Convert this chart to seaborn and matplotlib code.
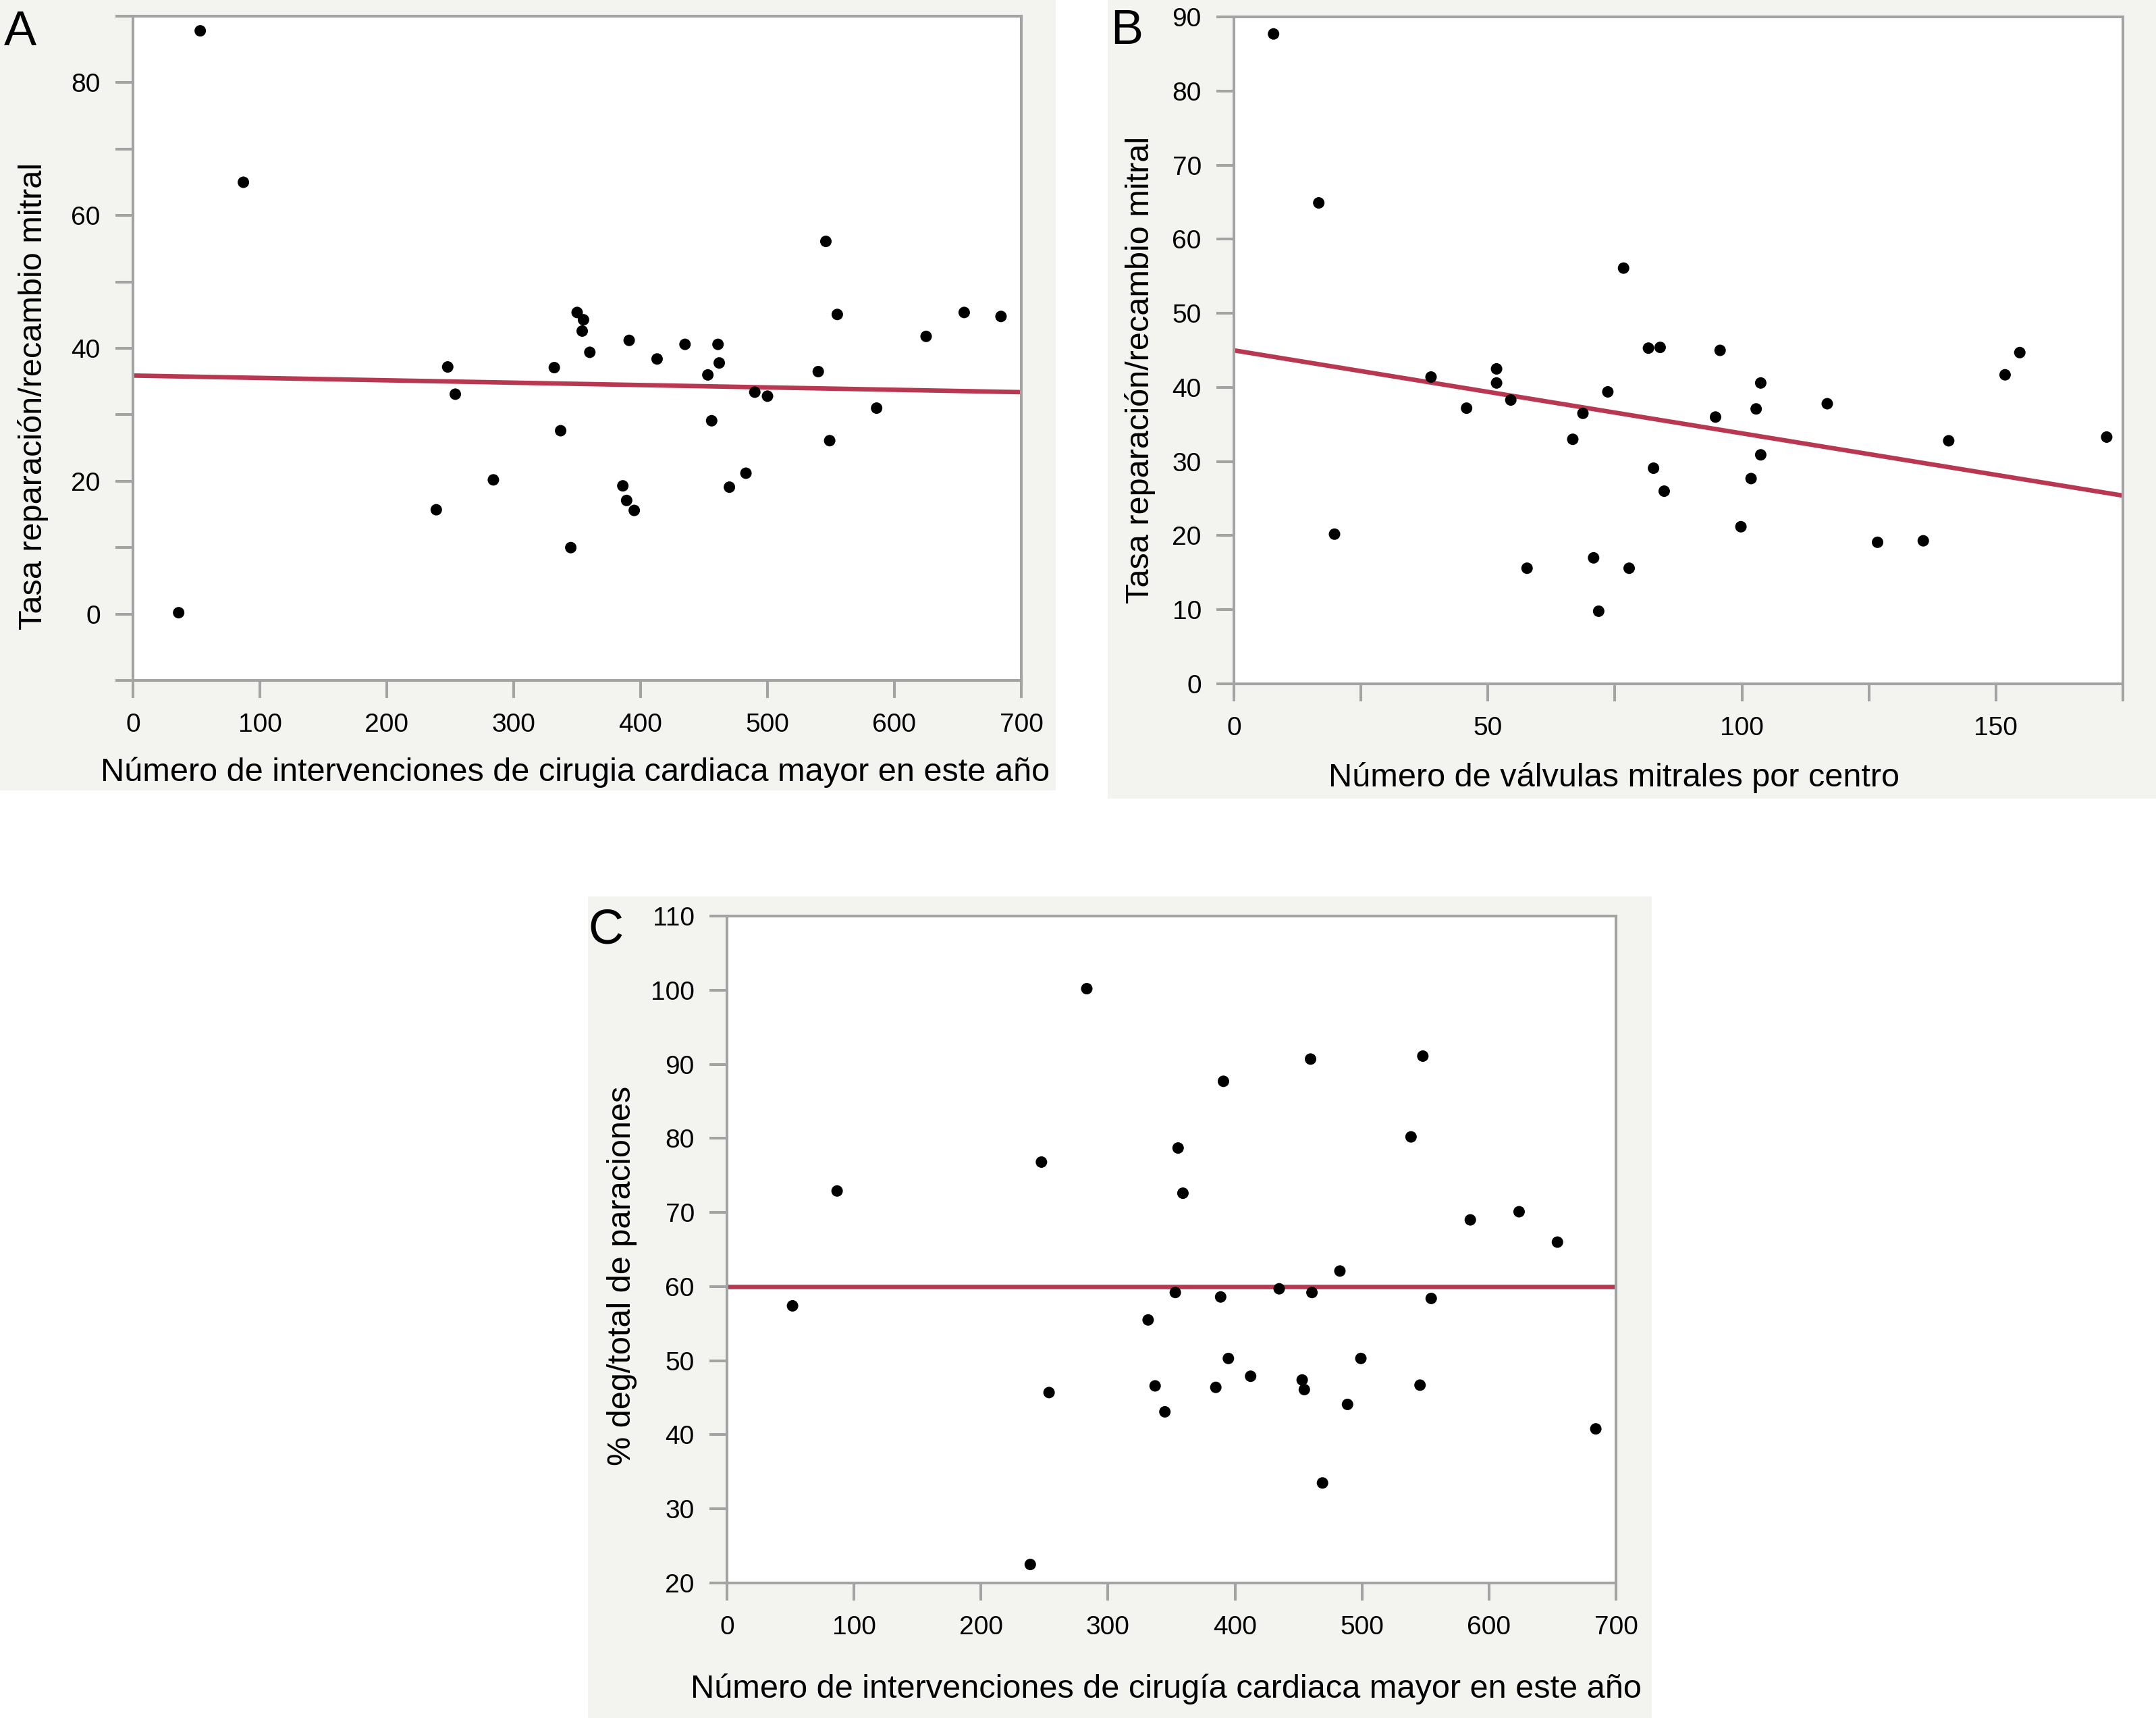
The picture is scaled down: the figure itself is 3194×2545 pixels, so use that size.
import matplotlib
matplotlib.use("Agg")
import matplotlib.pyplot as plt
import seaborn as sns
from matplotlib.patches import Rectangle
from matplotlib.ticker import FixedLocator

# ---------------- data ----------------
a_x = [36, 53, 87, 239, 248, 254, 284, 332, 337, 345, 350, 355, 354, 360, 386, 389, 395, 391,
       413, 435, 453, 456, 461, 462, 470, 483, 490, 500, 540, 546, 549, 555, 586, 625, 655, 684]
a_y = [0.2, 87.8, 65.0, 15.7, 37.2, 33.1, 20.2, 37.1, 27.6, 10.0, 45.4, 44.3, 42.6, 39.4, 19.3,
       17.1, 15.6, 41.2, 38.4, 40.6, 36.0, 29.1, 40.6, 37.8, 19.1, 21.2, 33.4, 32.8, 36.5, 56.1,
       26.1, 45.1, 31.0, 41.8, 45.4, 44.8]
a_fit_x = [0, 700]
a_fit_y = [35.9, 33.4]

b_x = [7.8, 16.7, 19.8, 38.8, 45.8, 51.7, 51.7, 54.5, 57.7, 66.7, 68.7, 70.8, 71.8, 73.6, 76.7,
       77.8, 81.6, 83.9, 82.6, 84.7, 94.8, 95.7, 99.8, 101.8, 102.8, 103.7, 103.7, 116.8, 126.7,
       135.7, 140.7, 151.8, 154.7, 171.8]
b_y = [87.7, 64.9, 20.2, 41.4, 37.2, 42.5, 40.6, 38.3, 15.6, 33.0, 36.5, 17.0, 9.8, 39.4, 56.1,
       15.6, 45.3, 45.4, 29.1, 26.0, 36.0, 45.0, 21.2, 27.7, 37.1, 40.6, 30.9, 37.8, 19.1, 19.3,
       32.8, 41.7, 44.7, 33.3]
b_fit_x = [0, 175]
b_fit_y = [45.0, 25.4]

c_x = [51.6, 86.7, 238.8, 247.6, 253.6, 283.3, 331.6, 337.1, 344.8, 355.2, 353.0, 359.0, 384.9,
       388.7, 390.9, 394.8, 412.3, 434.8, 452.9, 454.6, 459.5, 460.6, 468.9, 482.6, 488.6, 499.1,
       538.6, 545.7, 547.9, 554.5, 585.3, 623.7, 653.9, 684.1]
c_y = [57.4, 72.9, 22.5, 76.8, 45.7, 100.2, 55.5, 46.6, 43.1, 78.7, 59.2, 72.6, 46.4, 58.6, 87.7,
       50.3, 47.9, 59.7, 47.4, 46.1, 90.7, 59.2, 33.5, 62.1, 44.1, 50.3, 80.2, 46.7, 91.1, 58.4,
       69.0, 70.1, 66.0, 40.8]
c_fit_x = [0, 700]
c_fit_y = [60.0, 60.0]

xlabel_a = "Número de intervenciones de cirugia cardiaca mayor en este año"
ylabel_ab = "Tasa reparación/recambio mitral"
xlabel_b = "Número de válvulas mitrales por centro"
xlabel_c = "Número de intervenciones de cirugía cardiaca mayor en este año"
ylabel_c = "% deg/total de paraciones"

# ---------------- style ----------------
sns.set_theme(style="white")
plt.rcParams["font.family"] = ["Liberation Sans", "DejaVu Sans"]

W, H = 3194, 2545
BG = "#f3f4ef"
GRAY = "#a3a3a3"
RED = "#b52d48"

fig = plt.figure(figsize=(W / 100, H / 100), dpi=100)
fig.patch.set_facecolor("white")


def box(x0, y0, x1, y1):
    return [x0 / W, 1 - y1 / H, (x1 - x0) / W, (y1 - y0) / H]


for (x0, y0, x1, y1) in [(0, 0, 1564, 1171), (1641, 0, 3194, 1183), (871, 1328, 2447, 2545)]:
    fig.patches.append(Rectangle((x0 / W, 1 - y1 / H), (x1 - x0) / W, (y1 - y0) / H,
                                 transform=fig.transFigure, facecolor=BG,
                                 edgecolor="none", zorder=-5))


def panel(rect, x, y, fx, fy, xlim, ylim, xmaj, xmin, ymaj, ymin,
          xlabel, ylabel, xl_pos, yl_pos):
    ax = fig.add_axes(box(*rect))
    ax.set_facecolor("white")
    sns.lineplot(x=fx, y=fy, ax=ax, color=RED, linewidth=4.8, alpha=0.95, zorder=2)
    sns.scatterplot(x=x, y=y, ax=ax, color="black", s=150, edgecolor="none", zorder=3)
    ax.set_xlim(*xlim)
    ax.set_ylim(*ylim)
    ax.xaxis.set_major_locator(FixedLocator(xmaj))
    ax.xaxis.set_minor_locator(FixedLocator(xmin))
    ax.yaxis.set_major_locator(FixedLocator(ymaj))
    ax.yaxis.set_minor_locator(FixedLocator(ymin))
    for s in ax.spines.values():
        s.set_visible(True)
        s.set_color(GRAY)
        s.set_linewidth(2.9)
    ax.tick_params(which="both", direction="out", length=18.7, width=2.9, color=GRAY,
                   bottom=True, left=True, top=False, right=False)
    ax.tick_params(which="major", pad=16, labelsize=28, labelcolor="black")
    ax.set_xlabel(xlabel, fontsize=35, color="black")
    ax.set_ylabel(ylabel, fontsize=35, color="black")
    ax.xaxis.label.set_va("baseline")
    ax.xaxis.set_label_coords(*xl_pos)
    ax.yaxis.label.set_va("center")
    ax.yaxis.set_label_coords(*yl_pos)
    return ax


panel((197, 24, 1513, 1008), a_x, a_y, a_fit_x, a_fit_y, (0, 700), (-10, 90),
      list(range(0, 701, 100)), [], [0, 20, 40, 60, 80], [-10, 10, 30, 50, 70, 90],
      xlabel_a, ylabel_ab, (0.4977, -0.1514), (-0.1125, 0.428))

panel((1828, 25, 3145, 1013), b_x, b_y, b_fit_x, b_fit_y, (0, 175), (0, 90),
      [0, 50, 100, 150], [25, 75, 125, 175], list(range(0, 91, 10)), [],
      xlabel_b, ylabel_ab, (0.4275, -0.154), (-0.1055, 0.471))

panel((1077, 1357, 2394, 2345), c_x, c_y, c_fit_x, c_fit_y, (0, 700), (20, 110),
      list(range(0, 701, 100)), [], list(range(20, 111, 10)), [],
      xlabel_c, ylabel_c, (0.4935, -0.172), (-0.1177, 0.4605))

for (px, pb, lab) in [(6, 67, "A"), (1645, 65, "B"), (871, 1397, "C")]:
    fig.text(px / W, 1 - pb / H, lab, fontsize=52, ha="left", va="baseline", color="black")

fig.savefig("out.png", dpi=100, facecolor="white")
